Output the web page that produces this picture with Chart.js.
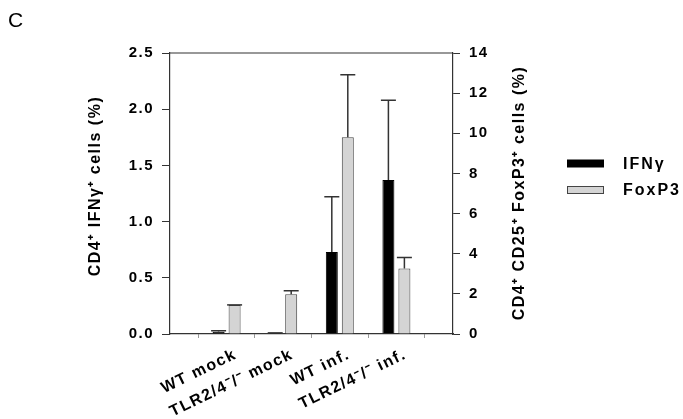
<!DOCTYPE html>
<html>
<head>
<meta charset="utf-8">
<script src="https://cdn.jsdelivr.net/npm/chart.js@4.4.1/dist/chart.umd.min.js"></script>
<style>
  body { margin: 0; background: #fff; }
  .wrap { position: relative; width: 683px; height: 419px; }
  .panel { position: absolute; left: 8px; top: 8px; font: 21px "Liberation Sans", Arial, sans-serif; color: #000; }
</style>
</head>
<body>
<div class="wrap">
  <canvas id="chart" width="683" height="419"></canvas>
  <div class="panel">C</div>
</div>
<script>
// ---------------------- DATA ----------------------
const categories = ["", "WT mock", "TLR2/4\u207B/\u207B mock", "WT inf.", "TLR2/4\u207B/\u207B inf.", ""];
const ifngValues = [null, 0.02, 0.01, 0.73, 1.37, null];
const ifngErrors = [null, 0.01, 0, 0.49, 0.71, null];
const foxp3Values = [null, 1.45, 1.98, 9.8, 3.26, null];
const foxp3Errors = [null, 0, 0.18, 3.12, 0.55, null];
const leftTicks = [0, 0.5, 1.0, 1.5, 2.0, 2.5];
const rightTicks = [0, 2, 4, 6, 8, 10, 12, 14];
const leftTitle = "CD4\u207A IFN\u03B3\u207A cells (%)";
const rightTitle = "CD4\u207A CD25\u207A FoxP3\u207A cells (%)";

const FONT = '"Liberation Sans", Arial, sans-serif';

// ---------------------- PLUGINS ----------------------
// wider letter spacing like the original figure
const spacing = {
  id: "spacing",
  beforeLayout(chart) { chart.ctx.letterSpacing = "1.5px"; },
  beforeDraw(chart) { chart.ctx.letterSpacing = "1.5px"; },
};

const extras = {
  id: "extras",
  afterDatasetsDraw(chart) {
    const ctx = chart.ctx;
    const errs = [ifngErrors, foxp3Errors];
    ctx.save();
    ctx.strokeStyle = "#333";
    ctx.lineWidth = 1.5;
    chart.data.datasets.forEach((ds, di) => {
      const meta = chart.getDatasetMeta(di);
      const scale = chart.scales[ds.yAxisID];
      meta.data.forEach((bar, i) => {
        if (ds.data[i] == null) return;
        const top = scale.getPixelForValue(ds.data[i] + errs[di][i]);
        ctx.beginPath();
        ctx.moveTo(bar.x, bar.y);
        ctx.lineTo(bar.x, top);
        ctx.moveTo(bar.x - 7.5, top);
        ctx.lineTo(bar.x + 7.5, top);
        ctx.stroke();
      });
    });
    ctx.restore();
  },
  afterDraw(chart) {
    const ctx = chart.ctx;
    const area = chart.chartArea;
    ctx.save();
    // top frame line
    ctx.strokeStyle = "#333";
    ctx.lineWidth = 1.2;
    ctx.beginPath();
    ctx.moveTo(area.left, area.top);
    ctx.lineTo(area.right, area.top);
    ctx.stroke();

    // axis titles
    ctx.fillStyle = "#000";
    ctx.font = "bold 16px " + FONT;
    ctx.letterSpacing = "1.5px";
    ctx.textAlign = "center";
    ctx.textBaseline = "middle";
    [[leftTitle, 96, 186], [rightTitle, 520, 193]].forEach(([t, x, y]) => {
      ctx.save();
      ctx.translate(x, y);
      ctx.rotate(-Math.PI / 2);
      ctx.fillText(t, 0, 0);
      ctx.restore();
    });

    // legend
    ctx.textAlign = "left";
    ctx.font = "bold 16px " + FONT;
    ctx.letterSpacing = "2px";
    chart.data.datasets.forEach((ds, di) => {
      const y = 163.5 + di * 26.5;
      ctx.fillStyle = ds.backgroundColor;
      ctx.fillRect(567, y - 3.5, 37, 7);
      ctx.strokeStyle = ds.borderColor;
      ctx.lineWidth = 1;
      ctx.strokeRect(567.5, y - 3.5, 36, 7);
      ctx.fillStyle = "#000";
      ctx.fillText(ds.label, 623, y + 1);
    });
    ctx.restore();
  },
};

// ---------------------- CHART ----------------------
new Chart(document.getElementById("chart"), {
  type: "bar",
  data: {
    labels: categories,
    datasets: [
      {
        label: "IFN\u03B3",
        data: ifngValues,
        yAxisID: "y",
        backgroundColor: "#000000",
        borderColor: "#000000",
        borderWidth: 1,
        categoryPercentage: 0.565,
        barPercentage: 0.75,
      },
      {
        label: "FoxP3",
        data: foxp3Values,
        yAxisID: "y1",
        backgroundColor: "#d4d4d4",
        borderColor: "#444444",
        borderWidth: 1,
        categoryPercentage: 0.565,
        barPercentage: 0.75,
      },
    ],
  },
  options: {
    responsive: false,
    animation: false,
    layout: { padding: { top: 53, left: 0, right: 0, bottom: 0 } },
    plugins: { legend: { display: false }, tooltip: { enabled: false } },
    scales: {
      x: {
        offset: false,
        afterFit: (s) => { s.height = 85; },
        grid: { drawOnChartArea: false, tickLength: 4, color: "#999" },
        border: { color: "#333", width: 1.2 },
        ticks: {
          autoSkip: false,
          maxRotation: 26,
          minRotation: 26,
          padding: 7,
          labelOffset: 9,
          color: "#000",
          font: { family: FONT, size: 16, weight: "bold" },
        },
      },
      y: {
        position: "left",
        min: 0,
        max: 2.5,
        afterFit: (s) => { s.width = 170; },
        afterBuildTicks: (s) => { s.ticks = leftTicks.map((v) => ({ value: v })); },
        grid: { drawOnChartArea: false, tickLength: 8, color: "#333" },
        border: { color: "#333", width: 1.2 },
        ticks: {
          padding: 8,
          color: "#000",
          font: { family: FONT, size: 15, weight: "bold" },
          callback: (v) => Number(v).toFixed(1),
        },
      },
      y1: {
        position: "right",
        min: 0,
        max: 14,
        afterFit: (s) => { s.width = 230; },
        afterBuildTicks: (s) => { s.ticks = rightTicks.map((v) => ({ value: v })); },
        grid: { drawOnChartArea: false, tickLength: 7, color: "#333" },
        border: { color: "#333", width: 1.2 },
        ticks: {
          padding: 9,
          color: "#000",
          font: { family: FONT, size: 15, weight: "bold" },
        },
      },
    },
  },
  plugins: [spacing, extras],
});
</script>
</body>
</html>
